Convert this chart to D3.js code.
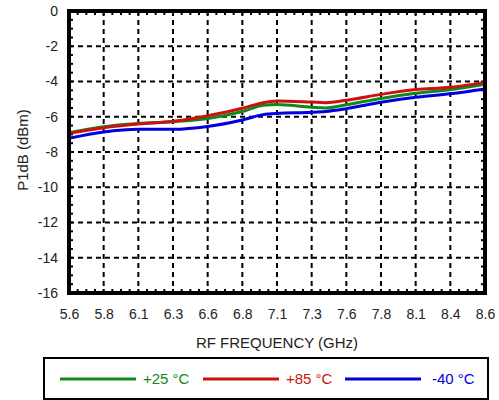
<!DOCTYPE html>
<html>
<head>
<meta charset="utf-8">
<script src="https://cdn.jsdelivr.net/npm/d3@7"></script>
<style>
  body { margin: 0; background: #fff; }
  text { font-family: "Liberation Sans", Arial, sans-serif; }
</style>
</head>
<body>
<svg width="499" height="400"></svg>
<script>
// frequencies (GHz) where values were read
let freqs = [5.6, 5.85, 6.1, 6.35, 6.6, 6.85, 7.0, 7.1, 7.35, 7.45, 7.6, 7.85, 8.1, 8.35, 8.6];
let p25 = [-6.90, -6.56, -6.38, -6.28, -6.10, -5.70, -5.35, -5.30, -5.46, -5.50, -5.32, -4.96, -4.67, -4.45, -4.15];
let p85 = [-6.94, -6.62, -6.41, -6.26, -5.94, -5.52, -5.20, -5.11, -5.17, -5.20, -5.07, -4.73, -4.46, -4.33, -4.05];
let m40 = [-7.22, -6.86, -6.71, -6.71, -6.55, -6.18, -5.88, -5.81, -5.75, -5.70, -5.54, -5.18, -4.90, -4.70, -4.43];

let xTickLabels = ["5.6", "5.8", "6.1", "6.3", "6.6", "6.8", "7.1", "7.3", "7.6", "7.8", "8.1", "8.4", "8.6"];
let yTicks = [0, -2, -4, -6, -8, -10, -12, -14, -16];

let seriesNames = ["+25 °C", "+85 °C", "-40 °C"];
let seriesColors = ["#11881a", "#cc1111", "#0000dd"];

function drawChart() {
    let svg = d3.select("svg");
    let left = 69, right = 485, top = 11, bottom = 293;

    let xTicks = xTickLabels.map((d, i) => 5.6 + i * 0.25);
    let x = d3.scaleLinear().domain([5.6, 8.6]).range([left, right]);
    let y = d3.scaleLinear().domain([-16, 0]).range([bottom, top]);

    // dashed grid
    let grid = svg.append("g");
    grid.selectAll("line.v")
        .data(xTicks.slice(1, -1))
        .enter()
        .append("line")
        .attr("x1", d => x(d)).attr("x2", d => x(d))
        .attr("y1", top).attr("y2", bottom)
        .attr("stroke", "#000").attr("stroke-width", 2)
        .attr("stroke-dasharray", "5,4");
    grid.selectAll("line.h")
        .data(yTicks.slice(1, -1))
        .enter()
        .append("line")
        .attr("x1", left).attr("x2", right)
        .attr("y1", d => y(d)).attr("y2", d => y(d))
        .attr("stroke", "#000").attr("stroke-width", 2)
        .attr("stroke-dasharray", "5,4");

    // minor ticks inside all four sides
    let xMinor = d3.range(0, 49).map(i => 5.6 + i * 0.0625);
    let yMinor = d3.range(0, 33).map(i => -16 + i * 0.5);
    let ticks = svg.append("g").attr("stroke", "#000").attr("stroke-width", 2);
    xMinor.forEach(d => {
        ticks.append("line").attr("x1", x(d)).attr("x2", x(d)).attr("y1", bottom).attr("y2", bottom - 4);
        ticks.append("line").attr("x1", x(d)).attr("x2", x(d)).attr("y1", top).attr("y2", top + 4);
    });
    yMinor.forEach(d => {
        ticks.append("line").attr("x1", left).attr("x2", left + 4).attr("y1", y(d)).attr("y2", y(d));
        ticks.append("line").attr("x1", right).attr("x2", right - 4).attr("y1", y(d)).attr("y2", y(d));
    });

    // curves
    let series = [p25, p85, m40];
    let line = d3.line()
        .x((d, i) => x(freqs[i]))
        .y(d => y(d))
        .curve(d3.curveMonotoneX);
    series.forEach((s, k) => {
        svg.append("path")
            .datum(s)
            .attr("d", line)
            .attr("fill", "none")
            .attr("stroke", seriesColors[k])
            .attr("stroke-width", 3);
    });

    // frame
    svg.append("rect")
        .attr("x", left).attr("y", top)
        .attr("width", right - left).attr("height", bottom - top)
        .attr("fill", "none").attr("stroke", "#000").attr("stroke-width", 4);

    // axes labels via d3 axes
    let xAxis = d3.axisBottom(x)
        .tickValues(xTicks)
        .tickFormat((d, i) => xTickLabels[i])
        .tickSize(0).tickPadding(16);
    svg.append("g")
        .attr("transform", "translate(0," + bottom + ")")
        .call(xAxis)
        .call(g => g.select(".domain").remove())
        .selectAll("text")
        .attr("font-size", 14).attr("fill", "#222")
        .style("font-family", "'Liberation Sans', Arial, sans-serif");

    let yAxis = d3.axisLeft(y)
        .tickValues(yTicks)
        .tickFormat(d => d === 0 ? "0" : String(d))
        .tickSize(0).tickPadding(11);
    svg.append("g")
        .attr("transform", "translate(" + left + ",0)")
        .call(yAxis)
        .call(g => g.select(".domain").remove())
        .selectAll("text")
        .attr("font-size", 14).attr("fill", "#222")
        .style("font-family", "'Liberation Sans', Arial, sans-serif");

    svg.append("text")
        .attr("x", 277).attr("y", 348)
        .attr("text-anchor", "middle")
        .attr("font-size", 15).attr("fill", "#222")
        .text("RF FREQUENCY (GHz)");

    svg.append("text")
        .attr("transform", "translate(28,150) rotate(-90)")
        .attr("text-anchor", "middle")
        .attr("font-size", 15).attr("fill", "#222")
        .text("P1dB (dBm)");

    // legend
    svg.append("rect")
        .attr("x", 44).attr("y", 358)
        .attr("width", 444).attr("height", 41)
        .attr("fill", "none").attr("stroke", "#000").attr("stroke-width", 2);
    let legX = [60, 203, 345];
    let legText = [143, 286, 432];
    seriesNames.forEach((n, k) => {
        svg.append("line")
            .attr("x1", legX[k]).attr("x2", legX[k] + 76)
            .attr("y1", 379).attr("y2", 379)
            .attr("stroke", seriesColors[k]).attr("stroke-width", 3);
        svg.append("text")
            .attr("x", legText[k]).attr("y", 384)
            .attr("font-size", 15).attr("fill", seriesColors[k])
            .text(n);
    });
}

drawChart();
</script>
</body>
</html>
